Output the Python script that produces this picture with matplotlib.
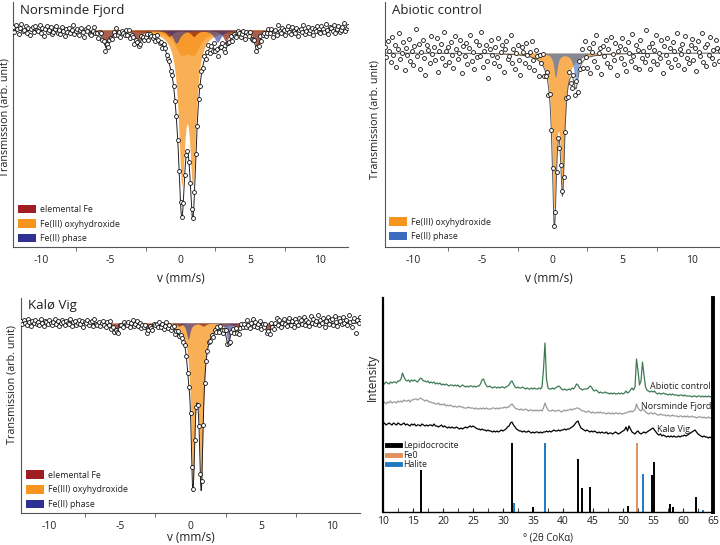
import numpy as np
import matplotlib.pyplot as plt
from matplotlib.patches import Patch
from matplotlib.lines import Line2D

plt.rcParams['font.family'] = ['Open Sans', 'DejaVu Sans']
plt.rcParams['axes.unicode_minus'] = False
TXT = '#231f20'

# ---------------- Mossbauer spectra ----------------
# channel velocities (mm/s)
v_ch = np.round(np.linspace(-12, 12, 241), 2)
BASE = 1000  # off-resonance transmission, arb. unit

# fitted sub-spectra: line positions (mm/s), depths (arb.), half widths (mm/s)
# Norsminde Fjord
nf_fe3_pos, nf_fe3_depth, nf_fe3_hw = [0.09, 0.88], [140, 140], [0.28, 0.28]
nf_fe3b_pos, nf_fe3b_depth, nf_fe3b_hw = [0.05, 0.95], [20, 20], [0.55, 0.55]
nf_fe2_pos, nf_fe2_depth, nf_fe2_hw = [-0.3, 2.65], [13, 12], [0.3, 0.3]
nf_fe0_pos = [-5.3, -3.05, -0.8, 0.95, 3.25, 5.48]
nf_fe0_depth = [17, 12, 6, 6, 11, 17]
nf_fe0_hw = [0.25] * 6
nf_resid = """
3 -2 5 1 -4 2 6 -1 0 4 -3 2 -5 1 3 -2 4 0 -1 5
-3 2 -6 1 4 -2 0 3 -4 -1 2 5 -2 1 -3 4 0 -5 2 -1
3 -2 1 6 -3 0 2 -4 1 3 -1 -6 2 0 4 -2 -3 1 5 -1
0 -4 2 3 -2 1 -5 4 -1 2 0 -3 3 -1 6 -2 1 -4 2 0
-2 3 -1 4 -3 1 0 -5 2 3 -1 -2 4 1 -3 0 2 -4 3 1
-1 2 -3 4 0 -2 1 -4 3 2 -1 0 3 -2 1 0 -1 1 0 -1
0 1 -1 0 1 0 -1 0 1 -1 0 1 -2 2 -1 3 -2 4 -3 1
5 -4 2 -3 6 -1 3 -5 2 0 4 -2 -3 5 1 -1 3 -4 2 0
-2 4 1 -3 0 3 -5 2 1 -1 4 -2 0 3 -4 2 -1 5 -3 1
2 -2 0 4 -1 3 -5 1 2 -3 6 0 -2 3 1 -4 2 5 -1 -3
4 0 -2 3 -5 1 2 -1 6 -3 0 4 -2 1 3 -4 2 0 5 -1
-3 4 1 -2 6 0 -4 3 2 -1 5 -3 1 4 -2 0 3 7 -1 2 4
"""

# Abiotic control
ab_fe3_pos, ab_fe3_depth, ab_fe3_hw = [0.12, 0.72, 0.4], [137, 120, 10], [0.18, 0.18, 0.8]
ab_fe2_pos, ab_fe2_depth, ab_fe2_hw = [0.22, 1.68], [24, 27], [0.15, 0.2]
ab_resid = """
6 -4 12 2 -9 16 -2 8 -14 4 20 -6 0 11 -17 5 -2 14 -8 2
-12 7 24 -3 9 -16 1 13 -5 -22 8 3 -10 17 -1 6 -7 15 -19 2
9 -5 21 -12 2 6 -9 11 -2 -15 17 4 -6 0 13 -20 7 -3 10 -11
5 18 -8 1 -16 12 -4 8 -2 22 -13 3 9 -7 -24 5 14 -1 -9 7
-3 16 -12 2 9 -18 5 13 -5 -2 19 -9 6 -14 2 10 -5 -20 8 3
-7 13 1 -11 5 16 -2 -12 9 4 -15 7 0 11 -8 -4 5 -9 6 -5
3 -5 2 -3 4 -6 2 5 -4 -2 5 -8 9 -6 -11 5 -9 7 -12 11
-3 14 -7 19 2 -10 9 -16 4 13 -5 21 -12 2 7 -19 9 -1 15 -9
5 -13 17 0 -6 11 -21 3 8 -4 16 -10 5 -17 12 1 -7 20 -2 -13
9 4 -15 13 -5 2 -9 23 -2 6 -16 10 -8 3 18 -11 0 -5 13 -20
7 -2 15 -9 5 -14 11 2 -6 20 -12 4 -1 9 -16 17 -5 2 -10 8
14 -7 5 -18 12 1 -3 20 -9 6 -13 9 -2 16 -5 3 -11 13 5 -8 2
"""

# Kalo Vig
kv_fe3_pos, kv_fe3_depth, kv_fe3_hw = [0.17, 0.76, 0.45], [145, 145, 12], [0.16, 0.16, 0.7]
kv_fe2_pos, kv_fe2_depth, kv_fe2_hw = [-0.16, 2.67], [16, 20], [0.15, 0.15]
kv_fe0_pos = [-5.3, -3.06, -0.8, 0.9, 3.3, 5.5]
kv_fe0_depth = [10, 7, 3, 3, 7, 10]
kv_fe0_hw = [0.2] * 6
kv_resid = """
2 -1 3 0 -2 4 1 -3 2 0 3 -1 1 -2 4 0 -3 2 1 -1
3 0 -2 1 4 -1 2 -3 0 3 1 -2 2 0 -1 4 -3 1 2 -2
0 3 -1 2 -4 1 0 3 -2 1 2 -3 4 0 -1 2 -2 1 3 -1
-3 2 0 4 -2 1 -1 3 0 -4 2 1 -2 3 0 -1 2 -3 1 4
-2 0 3 -1 2 -3 1 0 4 -2 1 3 -1 -4 2 0 1 -2 3 -1
2 -3 0 4 -1 2 -2 1 3 -4 0 2 -1 1 0 -1 1 0 -1 0
1 0 -1 0 1 -1 0 1 0 -1 0 1 -1 2 -2 1 -3 2 -1 3
-2 4 0 -3 2 5 -1 3 -4 1 2 -2 4 0 -3 1 3 -1 2 -2
5 0 -3 2 6 -1 3 -2 1 4 -4 2 0 5 -1 3 -2 6 0 -3
2 7 -1 4 -3 1 5 0 -2 3 6 -1 2 -4 4 1 -2 5 3 -1
6 -2 3 1 -3 7 0 4 -1 2 8 -2 3 0 5 -4 2 6 -1 3
4 -2 7 1 -3 5 2 -1 6 0 3 -2 8 1 -4 2 5 -10 3 0 6
"""

# ---------------- XRD ----------------
# intensity every 0.25 deg 2theta from 10 to 65 (one row per degree)
xrd_abiotic = """
14 13 15 14
13 15 14 15
15 14 16 16
18 24 20 17
16 17 15 17
16 17 16 15
17 19 18 16
16 15 16 14
15 14 15 13
14 13 14 12
13 12 13 12
11 12 12 11
12 11 12 10
11 12 11 10
11 10 11 11
10 11 10 11
11 13 17 18
14 11 10 11
10 9 10 10
9 10 9 10
10 9 10 11
12 15 16 13
10 9 10 9
9 10 9 8
9 8 8 9
8 9 8 8
9 8 10 28
54 18 9 8
8 9 8 9
10 11 10 8
7 8 7 7
8 7 9 8
10 13 12 9
8 7 8 8
8 9 11 10
7 6 7 6
4 5 4 4
5 4 4 3
4 3 4 3
3 4 3 4
3 4 6 4
5 7 9 7
10 38 26 12
16 35 22 10
7 6 5 6
5 6 4 3
4 3 3 4
3 3 2 3
2 3 2 2
2 1 2 2
1 2 1 1
1 1 0 1
1 0 1 1
0 1 0 1
0 1 0 1
0
"""
xrd_norsminde = """
15 16 14 16
15 17 15 16
16 15 17 16
17 16 18 17
17 18 16 18
18 19 19 18
19 20 19 18
17 18 17 16
16 15 15 14
14 15 13 14
13 14 12 13
12 13 12 11
12 11 11 12
11 11 10 10
10 11 10 10
10 9 10 9
9 10 9 10
9 10 9 9
9 10 10 9
10 9 10 10
10 11 10 11
11 13 14 12
10 9 9 8
9 8 8 9
8 7 8 8
7 8 7 8
7 8 7 10
15 11 8 7
7 8 7 7
7 8 7 6
7 8 7 8
8 9 8 9
9 10 10 9
8 7 7 6
6 7 6 5
6 5 5 6
5 6 5 5
5 4 5 5
4 5 4 5
5 4 5 4
4 5 5 6
6 7 6 7
8 14 10 8
7 9 8 6
5 4 5 5
4 5 4 3
3 4 3 3
3 2 3 2
2 3 2 2
2 1 2 2
1 2 1 2
1 1 2 1
1 0 1 1
1 0 1 0
0 1 0 0
0
"""
xrd_kalo = """
16 17 15 16
17 16 15 17
16 15 17 16
15 16 17 15
16 15 14 16
15 16 14 15
15 14 16 15
14 15 14 15
15 14 16 14
14 13 14 15
13 14 13 12
13 12 13 12
12 13 12 11
12 11 12 13
12 13 14 13
14 13 12 11
11 10 11 10
10 9 10 9
9 8 9 8
9 8 9 10
9 10 11 13
14 17 18 15
13 11 10 9
9 8 9 8
8 9 8 7
8 7 8 8
7 8 7 8
8 9 8 9
8 9 10 9
9 10 9 10
10 11 10 11
11 12 13 14
16 18 19 15
12 11 10 9
10 9 8 9
8 9 8 7
8 7 8 7
7 8 6 7
7 6 7 8
7 6 7 8
9 10 13 9
14 11 8 7
6 8 9 7
6 7 8 7
8 9 10 11
12 10 8 6
5 6 4 5
4 3 4 3
4 3 4 3
3 4 3 4
4 5 4 5
6 7 8 9
10 8 6 5
4 3 4 3
3 2 3 2
2
"""

# reference patterns: 2theta and relative intensity
lep_pos = [16.4, 31.5, 35.0, 42.5, 43.2, 44.5, 50.8, 54.9, 55.2, 57.8, 58.3, 62.1]
lep_int = [61, 100, 7, 77, 35, 36, 9, 54, 72, 12, 7, 22]
fe0_pos = [52.4]
fe0_int = [100]
hal_pos = [31.8, 37.0, 53.4, 63.4]
hal_int = [13, 100, 55, 3]


def arr(s):
    return np.array(s.split(), dtype=float)


def lines(v, pos, depth, hw):
    out = np.zeros_like(v, dtype=float)
    for p, d, w in zip(pos, depth, hw):
        out += d / (1 + ((v - p) / w) ** 2)
    return out


FE3_C = '#f7941d'
FE0_C = '#8b2a12'
FE2_C = '#2e3192'
FE2_C_AB = '#3b6bbd'


def moss(ax, comps, resid, title, ylim, legend, fitcol):
    vf = np.linspace(-12, 12, 4801)
    total = np.zeros_like(vf)
    total_ch = np.zeros(len(v_ch))
    for pos, depth, hw, col, al in comps:
        a = lines(vf, pos, depth, hw)
        ax.fill_between(vf, BASE, BASE - a, color=col, alpha=al, lw=0)
        total += a
        total_ch += lines(v_ch, pos, depth, hw)
    ax.plot(vf, BASE - total, color=fitcol, lw=0.7, zorder=3)
    ax.plot(v_ch, BASE - total_ch + arr(resid), 'o', ms=2.8, mfc='white',
            mec='#111', mew=0.6, zorder=4)
    ax.set_xlim(-12, 12)
    ax.set_ylim(*ylim)
    ax.set_yticks([])
    ax.set_xticks([-10, -5, 0, 5, 10])
    ax.set_xticks([-7.5, -2.5, 2.5, 7.5], minor=True)
    ax.tick_params(which='major', length=0, labelsize=7.5, pad=6, colors=TXT)
    ax.tick_params(which='minor', length=3, direction='out', color='#555')
    for s in ['top', 'right']:
        ax.spines[s].set_visible(False)
    for s in ['left', 'bottom']:
        ax.spines[s].set_color('#555')
        ax.spines[s].set_linewidth(0.8)
    ax.text(0.02, 0.967, title, transform=ax.transAxes, fontsize=9.5,
            color=TXT, va='center', ha='left')
    ax.set_xlabel('v (mm/s)', fontsize=8.5, color=TXT)
    ax.set_ylabel('Transmission (arb. unit)', fontsize=7.8, color=TXT)
    handles = [Patch(facecolor=c, edgecolor='none') for c, _ in legend]
    ax.legend(handles, [l for _, l in legend], loc='lower left',
              bbox_to_anchor=(0.015, 0.016), frameon=False, fontsize=6.3,
              handlelength=2.1, handleheight=1.15, labelspacing=0.6,
              handletextpad=0.45, borderaxespad=0, borderpad=0,
              labelcolor=TXT)


fig = plt.figure(figsize=(7.2, 5.45), dpi=100)

# Norsminde Fjord
ax1 = fig.add_axes([13 / 720, 1 - 247 / 545, 335 / 720, 245 / 545])
moss(ax1, [(nf_fe3b_pos, nf_fe3b_depth, nf_fe3b_hw, FE3_C, 0.75),
           (nf_fe3_pos, nf_fe3_depth, nf_fe3_hw, FE3_C, 0.75),
           (nf_fe0_pos, nf_fe0_depth, nf_fe0_hw, FE0_C, 0.75),
           (nf_fe2_pos, nf_fe2_depth, nf_fe2_hw, FE2_C, 0.6)],
     nf_resid, 'Norsminde Fjord', (783, 1028),
     [('#a01e22', 'elemental Fe'), (FE3_C, 'Fe(III) oxyhydroxide'),
      (FE2_C, 'Fe(II) phase')], '#231f20')
ax1.xaxis.set_label_coords(0.5, -0.127)
ax1.xaxis.label.set_va('center')
ax1.yaxis.set_label_coords(-0.024, 0.53)
ax1.yaxis.label.set_va('center')

# Abiotic control
ax2 = fig.add_axes([385 / 720, 1 - 247 / 545, 335 / 720, 245 / 545])
moss(ax2, [(ab_fe3_pos, ab_fe3_depth, ab_fe3_hw, FE3_C, 0.75),
           (ab_fe2_pos, ab_fe2_depth, ab_fe2_hw, FE2_C_AB, 0.6)],
     ab_resid, 'Abiotic control', (806, 1051),
     [(FE3_C, 'Fe(III) oxyhydroxide'), (FE2_C_AB, 'Fe(II) phase')], '#555')
ax2.xaxis.set_label_coords(0.49, -0.127)
ax2.xaxis.label.set_va('center')
ax2.yaxis.set_label_coords(-0.03, 0.52)
ax2.yaxis.label.set_va('center')
ax2.get_legend().set_bbox_to_anchor((0.012, 0.024))

# Kalo Vig
ax3 = fig.add_axes([21 / 720, 1 - 513 / 545, 339 / 720, 215 / 545])
moss(ax3, [(kv_fe3_pos, kv_fe3_depth, kv_fe3_hw, FE3_C, 0.75),
           (kv_fe0_pos, kv_fe0_depth, kv_fe0_hw, FE0_C, 0.75),
           (kv_fe2_pos, kv_fe2_depth, kv_fe2_hw, FE2_C, 0.6)],
     kv_resid, 'Kalø Vig', (810, 1025),
     [('#a01e22', 'elemental Fe'), (FE3_C, 'Fe(III) oxyhydroxide'),
      (FE2_C, 'Fe(II) phase')], '#231f20')
ax3.xaxis.set_label_coords(0.5, -0.116)
ax3.xaxis.label.set_va('center')
ax3.yaxis.set_label_coords(-0.027, 0.6)
ax3.yaxis.label.set_va('center')
ax3.get_legend().set_bbox_to_anchor((0.015, 0.019))

# XRD
ax4 = fig.add_axes([383 / 720, 1 - 512 / 545, 330 / 720, 214 / 545])
xa, xn, xk = arr(xrd_abiotic), arr(xrd_norsminde), arr(xrd_kalo)
ax4.plot(10 + 0.25 * np.arange(len(xa)), xa + 115, color='#3d7a55', lw=0.9)
ax4.plot(10 + 0.25 * np.arange(len(xn)), xn + 94, color='#9a9a9a', lw=0.9)
ax4.plot(10 + 0.25 * np.arange(len(xk)), xk + 72, color='black', lw=0.9)
ax4.text(64.6, 126, 'Abiotic control', ha='right', va='center', fontsize=6.5, color=TXT)
ax4.text(64.8, 105.5, 'Norsminde Fjord', ha='right', va='center', fontsize=6.5, color=TXT)
ax4.text(61.2, 83, 'Kalø Vig', ha='right', va='center', fontsize=6.5, color=TXT)

SCALE = 0.69
ax4.vlines(lep_pos, 0, np.array(lep_int) * SCALE, color='black', lw=1.4)
ax4.vlines(fe0_pos, 0, np.array(fe0_int) * SCALE, color='#e0915a', lw=1.4)
ax4.vlines(hal_pos, 0, np.array(hal_int) * SCALE, color='#1f78c1', lw=1.4)
ax4.legend([Line2D([0], [0], color='black', lw=3.5),
            Line2D([0], [0], color='#e0915a', lw=3.5),
            Line2D([0], [0], color='#1f78c1', lw=3.5)],
           ['Lepidocrocite', 'Fe0', 'Halite'], loc='upper left',
           bbox_to_anchor=(0.012, 0.33), frameon=False, fontsize=6.3,
           handlelength=1.5, handletextpad=0.3, labelspacing=0.05,
           borderaxespad=0, borderpad=0, labelcolor=TXT)

ax4.set_xlim(10, 65)
ax4.set_ylim(0, 214)
ax4.set_yticks([])
ax4.set_xticks(np.arange(10, 66, 5))
ax4.set_xticks(np.arange(12.5, 65, 5), minor=True)
ax4.tick_params(which='both', direction='in', length=3, labelsize=7.5,
                colors=TXT, pad=3)
ax4.spines['top'].set_visible(False)
ax4.spines['left'].set_linewidth(1.6)
ax4.spines['right'].set_linewidth(2.8)
ax4.spines['bottom'].set_linewidth(1.0)
ax4.set_xlabel('° (2θ CoKα)', fontsize=7, color=TXT)
ax4.xaxis.set_label_coords(0.5, -0.121)
ax4.xaxis.label.set_va('center')
ax4.set_ylabel('Intensity', fontsize=8.5, color=TXT)
ax4.yaxis.set_label_coords(-0.033, 0.63)
ax4.yaxis.label.set_va('center')

fig.savefig('out.png', dpi=100)
